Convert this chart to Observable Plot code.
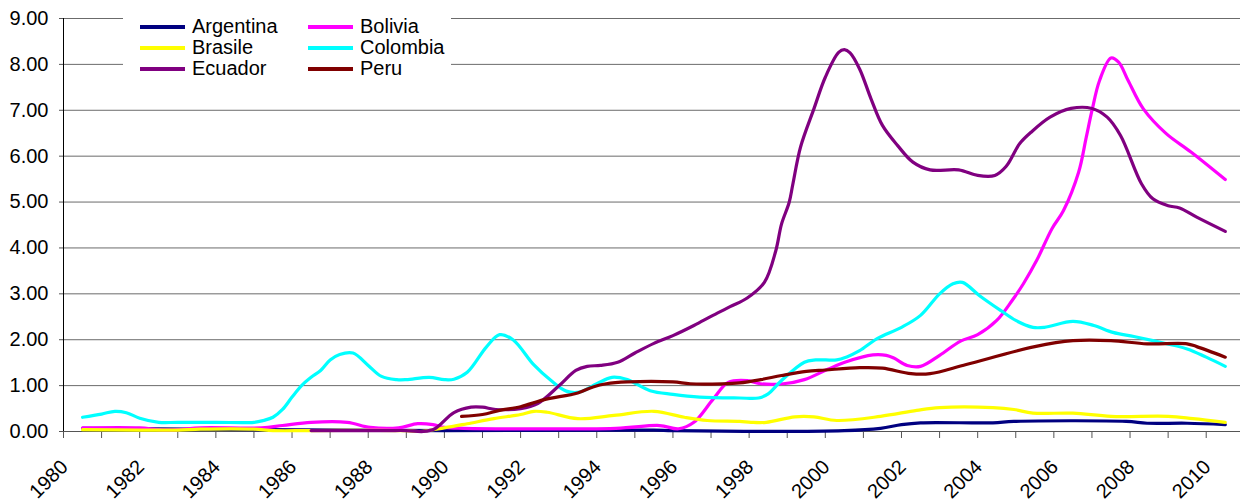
<!DOCTYPE html>
<html><head><meta charset="utf-8">
<script src="https://cdn.jsdelivr.net/npm/d3@7"></script>
<script src="https://cdn.jsdelivr.net/npm/@observablehq/plot@0.6"></script>
<style>
body{margin:0;background:#fff;}
#wrap{position:relative;width:1240px;height:504px;overflow:hidden;}
#legend{position:absolute;left:123px;top:10px;width:328px;height:72px;background:#fff;font:20px "Liberation Sans",Arial,sans-serif;color:#000;}
.item{position:absolute;display:flex;align-items:center;height:21px;white-space:nowrap;}
.sw{width:45px;height:4px;margin-right:7px;}
</style></head><body><div id="wrap"></div>
<script>
// ---- data (year, value) ----
const countries = ["Argentina","Bolivia","Brasile","Colombia","Ecuador","Peru"];
const colors = ["#000080","#FF00FF","#FFFF00","#00FFFF","#800080","#800000"];
const yTicks = [0,1,2,3,4,5,6,7,8,9];
const labelYears = [1980,1982,1984,1986,1988,1990,1992,1994,1996,1998,2000,2002,2004,2006,2008,2010];
const tickYears = [1980,1981,1982,1983,1984,1985,1986,1987,1988,1989,1990,1991,1992,1993,1994,1995,1996,1997,1998,1999,2000,2001,2002,2003,2004,2005,2006,2007,2008,2009,2010];

const argentina = [[1980.5,0.07],[1985.0,0.04],[1990.0,0.02],[1995.5,0.03],[1996.0,0.02],[2000.5,0.02],[2001.45,0.07],[2002.0,0.15],[2002.5,0.19],[2004.4,0.19],[2004.95,0.22],[2007.9,0.22],[2008.45,0.18],[2009.5,0.18],[2010.5,0.15]];
const bolivia = [[1980.5,0.08],[1982.0,0.08],[1982.5,0.04],[1983.0,0.04],[1983.6,0.08],[1985.2,0.08],[1985.75,0.13],[1986.5,0.20],[1987.45,0.20],[1988.05,0.09],[1988.8,0.08],[1989.3,0.17],[1989.7,0.15],[1990.0,0.09],[1990.5,0.07],[1994.5,0.07],[1995.65,0.13],[1996.15,0.06],[1996.55,0.20],[1997.05,0.70],[1997.45,1.07],[1997.95,1.11],[1998.3,1.04],[1998.9,1.04],[1999.45,1.13],[2000.05,1.35],[2000.55,1.52],[2001.25,1.67],[2001.6,1.66],[2001.8,1.60],[2002.15,1.44],[2002.5,1.42],[2003.0,1.66],[2003.55,1.97],[2004.0,2.11],[2004.5,2.42],[2004.9,2.85],[2005.2,3.22],[2005.55,3.73],[2005.95,4.42],[2006.25,4.81],[2006.65,5.65],[2006.85,6.41],[2007.0,6.99],[2007.2,7.65],[2007.5,8.14],[2007.7,8.05],[2007.95,7.65],[2008.35,7.03],[2008.95,6.49],[2009.6,6.09],[2010.5,5.49]];
const brasile = [[1980.5,0.04],[1982.0,0.03],[1983.0,0.03],[1983.6,0.05],[1985.0,0.05],[1985.5,0.02],[1986.5,0.02],[1989.0,0.02],[1989.35,0.0],[1990.0,0.08],[1990.6,0.17],[1991.3,0.28],[1992.0,0.37],[1992.35,0.44],[1992.7,0.42],[1993.5,0.28],[1994.45,0.35],[1995.5,0.44],[1996.3,0.31],[1996.9,0.24],[1997.75,0.22],[1998.05,0.20],[1998.45,0.20],[1999.2,0.32],[1999.7,0.32],[2000.3,0.24],[2001.45,0.33],[2002.4,0.46],[2003.0,0.52],[2004.4,0.52],[2004.95,0.48],[2005.45,0.40],[2006.5,0.40],[2007.5,0.33],[2009.0,0.33],[2009.65,0.28],[2010.5,0.20]];
const colombia = [[1980.5,0.31],[1981.0,0.38],[1981.35,0.44],[1981.65,0.41],[1982.0,0.29],[1982.5,0.20],[1983.0,0.20],[1984.0,0.20],[1985.0,0.20],[1985.25,0.24],[1985.5,0.31],[1985.75,0.48],[1986.0,0.75],[1986.25,1.0],[1986.5,1.18],[1986.75,1.33],[1987.0,1.56],[1987.25,1.68],[1987.6,1.71],[1988.0,1.44],[1988.35,1.20],[1988.75,1.13],[1989.0,1.13],[1989.6,1.18],[1990.0,1.13],[1990.25,1.14],[1990.6,1.29],[1991.1,1.84],[1991.45,2.11],[1991.8,2.0],[1992.35,1.45],[1992.8,1.11],[1993.2,0.88],[1993.55,0.86],[1994.0,1.04],[1994.4,1.18],[1994.8,1.13],[1995.4,0.89],[1996.0,0.81],[1996.7,0.75],[1997.75,0.73],[1998.25,0.73],[1998.5,0.82],[1998.85,1.11],[1999.45,1.51],[1999.75,1.56],[2000.3,1.56],[2000.55,1.62],[2000.9,1.76],[2001.35,2.02],[2002.0,2.27],[2002.5,2.53],[2003.0,3.0],[2003.35,3.22],[2003.6,3.25],[2004.05,2.96],[2004.6,2.64],[2005.0,2.42],[2005.45,2.27],[2005.75,2.27],[2006.5,2.40],[2007.05,2.31],[2007.55,2.16],[2008.1,2.07],[2008.6,1.98],[2009.5,1.80],[2010.0,1.62],[2010.5,1.42]];
const ecuador = [[1986.5,0.02],[1988.5,0.02],[1989.0,0.02],[1989.45,0.0],[1989.75,0.06],[1990.25,0.41],[1990.7,0.53],[1991.0,0.53],[1991.35,0.48],[1992.0,0.50],[1992.45,0.61],[1993.0,0.99],[1993.45,1.33],[1993.75,1.42],[1994.1,1.44],[1994.55,1.51],[1995.0,1.71],[1995.5,1.92],[1996.0,2.09],[1996.55,2.31],[1997.05,2.53],[1997.5,2.72],[1997.95,2.91],[1998.4,3.25],[1998.7,3.94],[1998.85,4.52],[1999.05,4.99],[1999.15,5.40],[1999.35,6.2],[1999.7,7.03],[2000.0,7.72],[2000.35,8.26],[2000.5,8.32],[2000.65,8.25],[2000.9,7.90],[2001.2,7.25],[2001.5,6.67],[2001.9,6.23],[2002.3,5.87],[2002.75,5.70],[2003.5,5.70],[2004.0,5.58],[2004.45,5.58],[2004.75,5.78],[2005.1,6.27],[2005.4,6.52],[2005.9,6.85],[2006.45,7.04],[2007.0,7.04],[2007.4,6.85],[2007.75,6.45],[2008.3,5.40],[2008.6,5.07],[2009.0,4.92],[2009.3,4.87],[2009.75,4.67],[2010.5,4.36]];
const peru = [[1990.45,0.33],[1991.0,0.37],[1991.45,0.46],[1992.0,0.54],[1992.6,0.69],[1993.5,0.84],[1993.9,0.97],[1994.25,1.04],[1994.8,1.08],[1996.0,1.08],[1996.45,1.04],[1997.3,1.04],[1997.75,1.06],[1998.3,1.13],[1998.85,1.22],[1999.5,1.31],[2000.0,1.34],[2000.9,1.39],[2001.5,1.38],[2002.25,1.26],[2002.75,1.26],[2003.7,1.46],[2005.5,1.85],[2006.5,1.98],[2007.5,1.98],[2008.45,1.91],[2009.5,1.91],[2009.75,1.85],[2010.5,1.62]];

const seriesData = [argentina, bolivia, brasile, colombia, ecuador, peru];
const rows = seriesData.flatMap((s, i) => s.map(([year, value]) => ({country: countries[i], year, value})));

const chart = Plot.plot({
  width: 1240, height: 504,
  marginLeft: 63, marginRight: 0, marginTop: 18, marginBottom: 73,
  style: {fontFamily: "'Liberation Sans', Arial, sans-serif", fontSize: "20px", color: "#000", background: "#fff", overflow: "visible"},
  x: {type: "linear", domain: [1980, 2010.9]},
  y: {domain: [0, 9]},
  color: {domain: countries, range: colors},
  marks: [
    Plot.gridY(yTicks, {stroke: "#6b6b6b", strokeOpacity: 1}),
    Plot.axisY(yTicks, {tickSize: 4, tickPadding: 11, tickFormat: d => d.toFixed(2), label: null, stroke: "#555", fontSize: 20}),
    Plot.axisX(tickYears, {tickSize: 7, tickFormat: () => "", label: null, stroke: "#555"}),
    Plot.axisX(labelYears.map(y => y + 0.5), {tickSize: 0, tickPadding: 32, dx: -18, tickRotate: -45, tickFormat: d => String(Math.floor(d)), label: null, fontSize: 20}),
    Plot.ruleY([0], {stroke: "#555"}),
    Plot.ruleX([1980], {stroke: "#000"}),
    Plot.line(rows, {x: "year", y: "value", z: "country", stroke: "country", strokeWidth: 3.2, curve: "catmull-rom"})
  ]
});
const wrap = document.getElementById("wrap");
wrap.appendChild(chart);

// legend (inside plot area, top-left)
const legend = document.createElement("div");
legend.id = "legend";
countries.forEach((c, i) => {
  const col = i % 2, row = Math.floor(i / 2);
  const it = document.createElement("div");
  it.className = "item";
  it.style.left = (17 + col * 168) + "px";
  it.style.top = (6 + row * 21) + "px";
  it.innerHTML = `<span class="sw" style="background:${colors[i]}"></span><span>${c}</span>`;
  legend.appendChild(it);
});
wrap.appendChild(legend);
</script>
</body></html>
